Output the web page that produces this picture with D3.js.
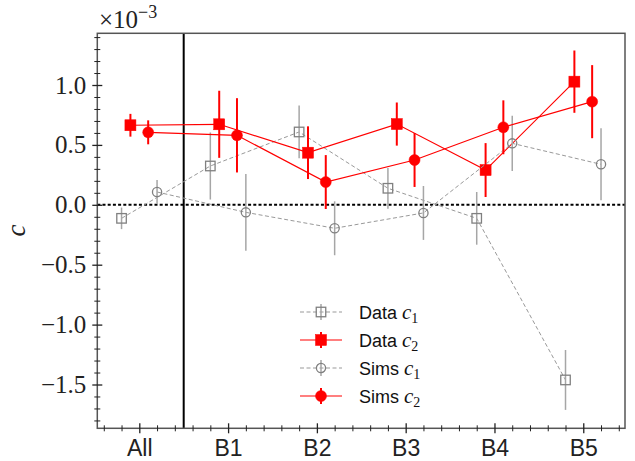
<!DOCTYPE html>
<html>
<head>
<meta charset="utf-8">
<script src="https://cdn.jsdelivr.net/npm/d3@7"></script>
<style>
  body { margin: 0; background: #fff; }
  svg { display: block; }
</style>
</head>
<body>
<div id="chart"></div>
<script>
// values are in units of 1e-3
const categories = ["All", "B1", "B2", "B3", "B4", "B5"];

const dataC1 = [-0.113, 0.324, 0.608, 0.138, -0.113, -1.462];
const dataC1Err = [0.09, 0.28, 0.22, 0.17, 0.22, 0.25];

const dataC2 = [0.664, 0.672, 0.435, 0.674, 0.29, 1.028];
const dataC2Err = [0.095, 0.28, 0.22, 0.18, 0.225, 0.26];

const simsC1 = [0.107, -0.063, -0.196, -0.068, 0.513, 0.338];
const simsC1Err = [0.10, 0.32, 0.225, 0.225, 0.23, 0.30];

const simsC2 = [0.605, 0.58, 0.19, 0.374, 0.647, 0.861];
const simsC2Err = [0.10, 0.31, 0.225, 0.225, 0.225, 0.305];

const yMajorTicks = [-1.5, -1.0, -0.5, 0.0, 0.5, 1.0];

const width = 635, height = 461;
const plot = { left: 97.3, right: 625, top: 33.3, bottom: 428.3 };

const svg = d3.select("#chart")
    .append("svg")
    .attr("width", width)
    .attr("height", height);

const xScale = d3.scaleLinear()
    .domain([-0.473, 5.47])
    .range([plot.left, plot.right]);

const yScale = d3.scaleLinear()
    .domain([-1.8656, 1.4316])
    .range([plot.bottom, plot.top]);

// series definitions (offset along x from the category position)
const series = [
    { name: "Data", sub: "1", values: dataC1, errs: dataC1Err, offset: -0.2, color: "#808080", errColor: "#a6a6a6", dash: "4,2.5", shape: "square", filled: false },
    { name: "Data", sub: "2", values: dataC2, errs: dataC2Err, offset: -0.1, color: "#ff0000", errColor: "#ff0000", dash: null, shape: "square", filled: true },
    { name: "Sims", sub: "1", values: simsC1, errs: simsC1Err, offset: 0.2, color: "#808080", errColor: "#a6a6a6", dash: "4,2.5", shape: "circle", filled: false },
    { name: "Sims", sub: "2", values: simsC2, errs: simsC2Err, offset: 0.1, color: "#ff0000", errColor: "#ff0000", dash: null, shape: "circle", filled: true }
];

// zero line and the separator after "All"
svg.append("line")
    .attr("x1", plot.left).attr("x2", plot.right)
    .attr("y1", yScale(0)).attr("y2", yScale(0))
    .attr("stroke", "#000")
    .attr("stroke-width", 2)
    .attr("stroke-dasharray", "3,2.2");

svg.append("line")
    .attr("x1", xScale(0.5)).attr("x2", xScale(0.5))
    .attr("y1", plot.top).attr("y2", plot.bottom)
    .attr("stroke", "#000")
    .attr("stroke-width", 2);

function drawMarker(g, s, cx, cy) {
    if (s.shape === "square") {
        const size = s.filled ? 11 : 9.5;
        g.append("rect")
            .attr("x", cx - size / 2).attr("y", cy - size / 2)
            .attr("width", size).attr("height", size)
            .attr("fill", s.filled ? s.color : "none")
            .attr("stroke", s.color)
            .attr("stroke-width", s.filled ? 0.5 : 1.3);
    } else {
        g.append("circle")
            .attr("cx", cx).attr("cy", cy)
            .attr("r", s.filled ? 5.5 : 4.6)
            .attr("fill", s.filled ? s.color : "none")
            .attr("stroke", s.color)
            .attr("stroke-width", s.filled ? 0.5 : 1.3);
    }
}

const line = d3.line()
    .x(d => xScale(d.x))
    .y(d => yScale(d.y));

series.forEach(s => {
    const pts = s.values.map((v, i) => ({ x: i + s.offset, y: v, e: s.errs[i] }));
    const g = svg.append("g");

    g.append("path")
        .datum(pts)
        .attr("d", line)
        .attr("fill", "none")
        .attr("stroke", s.filled ? s.color : "#999")
        .attr("stroke-width", s.filled ? 1.2 : 1)
        .attr("stroke-dasharray", s.dash);

    g.selectAll("line.err")
        .data(pts)
        .join("line")
        .attr("class", "err")
        .attr("x1", d => xScale(d.x)).attr("x2", d => xScale(d.x))
        .attr("y1", d => yScale(d.y - d.e)).attr("y2", d => yScale(d.y + d.e))
        .attr("stroke", s.errColor)
        .attr("stroke-width", s.filled ? 2 : 1.5);

    pts.forEach(d => drawMarker(g, s, xScale(d.x), yScale(d.y)));
});

// frame
svg.append("rect")
    .attr("x", plot.left).attr("y", plot.top)
    .attr("width", plot.right - plot.left)
    .attr("height", plot.bottom - plot.top)
    .attr("fill", "none")
    .attr("stroke", "#555")
    .attr("stroke-width", 1.5);

// y axis: major + minor ticks, drawn in/out
const yMinor = d3.range(-18, 15).map(d => d / 10).filter(d => !yMajorTicks.some(m => Math.abs(m - d) < 1e-9));

const leftAxis = svg.append("g")
    .attr("transform", `translate(${plot.left},0)`)
    .call(d3.axisLeft(yScale).tickValues(yMajorTicks).tickSize(5).tickPadding(6)
        .tickFormat(d => d3.format(".1f")(d).replace("-", "\u2212")));
leftAxis.select(".domain").remove();
leftAxis.selectAll(".tick line").attr("x1", 5).attr("stroke", "#222").attr("stroke-width", 1.3);
leftAxis.selectAll(".tick text")
    .attr("font-family", "'Liberation Serif', serif")
    .attr("font-size", 25)
    .attr("fill", "#222");

const leftMinor = svg.append("g")
    .attr("transform", `translate(${plot.left},0)`)
    .call(d3.axisLeft(yScale).tickValues(yMinor).tickSize(3).tickFormat(""));
leftMinor.select(".domain").remove();
leftMinor.selectAll(".tick line").attr("x1", 3).attr("stroke", "#222").attr("stroke-width", 1);

// x axis
const xMinor = d3.range(-2, 28).map(d => d / 5).filter(d => Math.abs(d - Math.round(d)) > 1e-9);

const bottomAxis = svg.append("g")
    .attr("transform", `translate(0,${plot.bottom})`)
    .call(d3.axisBottom(xScale).tickValues(d3.range(categories.length)).tickSize(5)
        .tickFormat(i => categories[i]));
bottomAxis.select(".domain").remove();
bottomAxis.selectAll(".tick line").attr("y1", -5).attr("stroke", "#222").attr("stroke-width", 1.3);
bottomAxis.selectAll(".tick text")
    .attr("font-family", "'Liberation Sans', sans-serif")
    .attr("font-size", 23)
    .attr("fill", "#222")
    .attr("dy", null)
    .attr("y", 27.5);

const bottomMinor = svg.append("g")
    .attr("transform", `translate(0,${plot.bottom})`)
    .call(d3.axisBottom(xScale).tickValues(xMinor).tickSize(3).tickFormat(""));
bottomMinor.select(".domain").remove();
bottomMinor.selectAll(".tick line").attr("y1", -3).attr("stroke", "#222").attr("stroke-width", 1);

// offset text (x10^-3)
const offsetText = svg.append("text")
    .attr("x", 99)
    .attr("y", 28)
    .attr("font-family", "'Liberation Serif', serif")
    .attr("font-size", 25)
    .attr("fill", "#222");
offsetText.append("tspan").text("\u00d710");
offsetText.append("tspan").attr("font-size", 18).attr("dy", -10).text("\u22123");

// y label
svg.append("text")
    .attr("transform", "translate(25,230.5) rotate(-90)")
    .attr("text-anchor", "middle")
    .attr("font-family", "'Liberation Serif', serif")
    .attr("font-style", "italic")
    .attr("font-size", 27)
    .attr("fill", "#222")
    .text("c");

// legend
const legend = svg.append("g")
    .attr("transform", "translate(300,312)");

series.forEach((s, i) => {
    const g = legend.append("g")
        .attr("transform", `translate(0,${i * 28})`);
    g.append("line")
        .attr("x1", 0).attr("x2", 42)
        .attr("y1", 0).attr("y2", 0)
        .attr("stroke", s.filled ? s.color : "#999")
        .attr("stroke-width", s.filled ? 1.2 : 1)
        .attr("stroke-dasharray", s.dash);
    g.append("line")
        .attr("x1", 21).attr("x2", 21)
        .attr("y1", -8).attr("y2", 8)
        .attr("stroke", s.errColor)
        .attr("stroke-width", s.filled ? 2 : 1.5);
    drawMarker(g, s, 21, 0);
    const t = g.append("text")
        .attr("x", 59)
        .attr("y", 6.5)
        .attr("font-family", "'Liberation Sans', sans-serif")
        .attr("font-size", 18)
        .attr("fill", "#111");
    t.append("tspan").text(s.name + " ");
    t.append("tspan")
        .attr("font-family", "'Liberation Serif', serif")
        .attr("font-style", "italic")
        .attr("font-size", 21)
        .text("c");
    t.append("tspan")
        .attr("font-family", "'Liberation Serif', serif")
        .attr("font-size", 14)
        .attr("dy", 4)
        .text(s.sub);
});
</script>
</body>
</html>
